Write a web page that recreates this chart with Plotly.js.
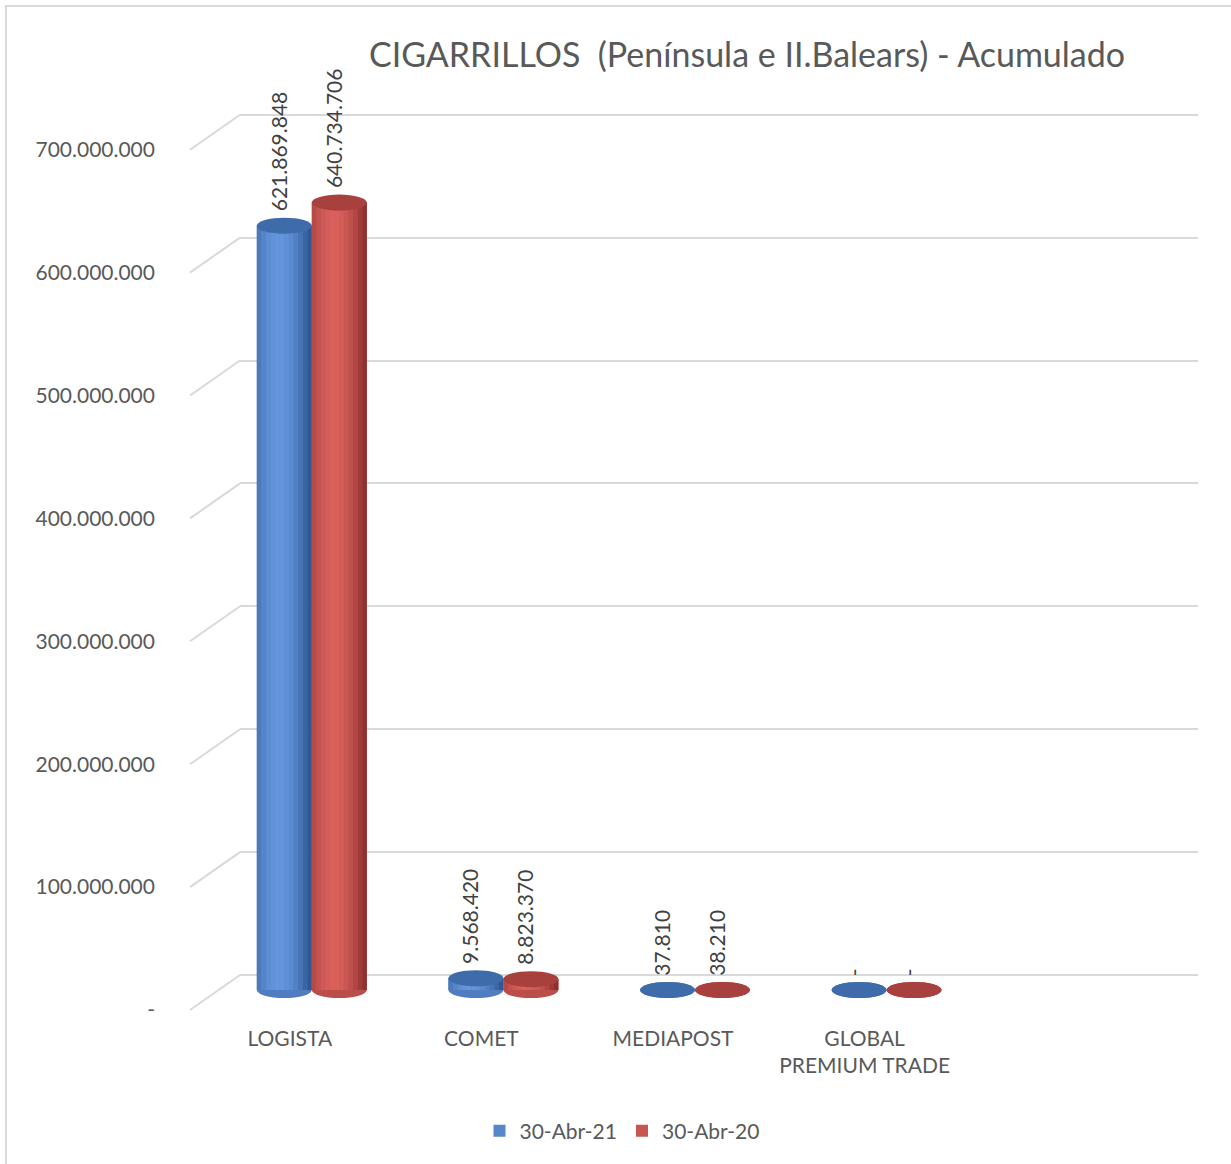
<!DOCTYPE html>
<html>
<head>
<meta charset="utf-8">
<script src="https://cdn.plot.ly/plotly-3.0.1.min.js"></script>
<style>html,body{margin:0;padding:0;background:#fff;}#chart{width:1231px;height:1164px;}</style>
</head>
<body>
<div id="chart"></div>
<script>
// ---- data ----
const categories = ['LOGISTA', 'COMET', 'MEDIAPOST', 'GLOBAL<br>PREMIUM TRADE'];
const seriesNames = ['30-Abr-21', '30-Abr-20'];
const values2021 = [621869848, 9568420, 37810, 0];
const values2020 = [640734706, 8823370, 38210, 0];
const labels2021 = ['621.869.848', '9.568.420', '37.810', '-'];
const labels2020 = ['640.734.706', '8.823.370', '38.210', '-'];
const tickVals = [0, 100000000, 200000000, 300000000, 400000000, 500000000, 600000000, 700000000];
const tickText = ['-', '100.000.000', '200.000.000', '300.000.000', '400.000.000', '500.000.000', '600.000.000', '700.000.000'];

// ---- styling ----
const W = 1231, H = 1164;
const px = v => v / W, py = v => 1 - v / H;
const k = 1.229e-6;              // pixels per unit
const yMax = 930 / k;
const barW = 0.287;
const seriesStyle = [
  {values: values2021, labels: labels2021, offset: -barW, dark: [48, 88, 146], light: [100, 150, 222], top: '#3e6cab'},
  {values: values2020, labels: labels2020, offset: 0, dark: [142, 50, 48], light: [218, 96, 92], top: '#a8403d'}
];
const font = 'Lato, "Open Sans", sans-serif';
const grey = '#595959';

const idx = categories.map((c, i) => i);
const traces = [];
const shapes = [];
const annotations = [];
const N = 12;
function mix(a, b, t) {
  return 'rgb(' + a.map((v, j) => Math.round(v + (b[j] - v) * t)).join(',') + ')';
}
function shade(t) {
  const s = Math.cos((t - 0.4) * Math.PI * 0.9);
  return Math.max(0, Math.min(1, s));
}
seriesStyle.forEach((s, si) => {
  idx.forEach(i => {
    shapes.push({type: 'circle', xref: 'x2', yref: 'y2', ysizemode: 'pixel', yanchor: 0,
      x0: i + s.offset, x1: i + s.offset + barW, y0: -8, y1: 8,
      fillcolor: mix(s.dark, s.light, 0.6), line: {width: 0}, layer: 'between'});
  });
  traces.push({type: 'bar', name: seriesNames[si], x: idx, y: s.values, xaxis: 'x2', yaxis: 'y2',
    width: barW, offset: s.offset, marker: {color: mix(s.dark, s.light, 0.75), line: {width: 0}}, hoverinfo: 'skip', showlegend: true});
  for (let j = 0; j < N; j++) {
    const t = (j + 0.5) / N;
    traces.push({type: 'bar', x: idx, y: s.values, xaxis: 'x2', yaxis: 'y2',
      width: barW / N * 1.02, offset: s.offset + j * barW / N,
      marker: {color: mix(s.dark, s.light, shade(t)), line: {width: 0}}, hoverinfo: 'skip', showlegend: false});
  }
  idx.forEach(i => {
    shapes.push({type: 'circle', xref: 'x2', yref: 'y2', ysizemode: 'pixel', yanchor: s.values[i],
      x0: i + s.offset, x1: i + s.offset + barW, y0: -8, y1: 8,
      fillcolor: s.top, line: {width: 0}, layer: 'above'});
    annotations.push({xref: 'x2', yref: 'y2', x: i + s.offset + barW / 2 - 0.03, y: s.values[i],
      text: s.labels[i], textangle: -90, showarrow: false, xanchor: 'center', yanchor: 'bottom', yshift: 12,
      font: {family: font, size: 21, color: '#404040'}});
  });
});

// diagonal side lines from front labels to back wall
tickVals.forEach(v => {
  shapes.push({type: 'line', xref: 'paper', yref: 'y', xsizemode: 'pixel', ysizemode: 'pixel',
    xanchor: px(240), yanchor: v, x0: -50, x1: 0, y0: -35, y1: 0,
    line: {color: '#d9d9d9', width: 2}, layer: 'below'});
});
// frame
shapes.push({type: 'rect', xref: 'paper', yref: 'paper', x0: px(6), x1: px(1240), y0: py(1175), y1: py(6),
  line: {color: '#d9d9d9', width: 2}, fillcolor: 'rgba(0,0,0,0)', layer: 'below'});

traces.unshift({type: 'scatter', x: [-0.5, 4.5], y: [0, 0], xaxis: 'x', yaxis: 'y', mode: 'lines',
  line: {width: 0}, hoverinfo: 'skip', showlegend: false});

const layout = {
  width: W, height: H,
  margin: {l: 0, r: 0, t: 0, b: 0},
  paper_bgcolor: '#ffffff', plot_bgcolor: 'rgba(0,0,0,0)',
  barmode: 'overlay',
  showlegend: true,
  title: {text: 'CIGARRILLOS  (Península e II.Balears) - Acumulado', x: px(747), xanchor: 'center', y: py(55), yanchor: 'middle',
    font: {family: font, size: 34, color: grey}},
  legend: {orientation: 'h', x: px(622), xanchor: 'center', y: py(1131), yanchor: 'middle',
    font: {family: font, size: 21, color: grey}, itemwidth: 30, traceorder: 'normal'},
  xaxis: {domain: [px(240), px(1198)], range: [-0.5, 4.5], visible: false, fixedrange: true},
  yaxis: {domain: [py(1015), py(45)], range: [-40 / k, yMax], showgrid: true, gridcolor: '#d9d9d9', gridwidth: 2,
    tickvals: tickVals, showticklabels: false, zeroline: false, showline: false, ticks: ''},
  xaxis2: {domain: [px(216), px(1174)], range: [-0.5, 4.5], anchor: 'y2',
    tickvals: idx, ticktext: categories, ticks: '', showline: false, showgrid: false, zeroline: false,
    ticklabelshift: -22, ticklabelstandoff: 24, tickfont: {family: font, size: 21, color: grey}},
  yaxis2: {domain: [py(1000), py(60)], range: [-10 / k, yMax], anchor: 'x2',
    tickvals: tickVals, ticktext: tickText, showgrid: false, zeroline: false, showline: false, ticks: '',
    ticklabelshift: 20, ticklabelstandoff: 60, tickfont: {family: font, size: 21, color: grey}},
  shapes: shapes,
  annotations: annotations
};
Plotly.newPlot('chart', traces, layout, {displayModeBar: false, staticPlot: true});
</script>
</body>
</html>
